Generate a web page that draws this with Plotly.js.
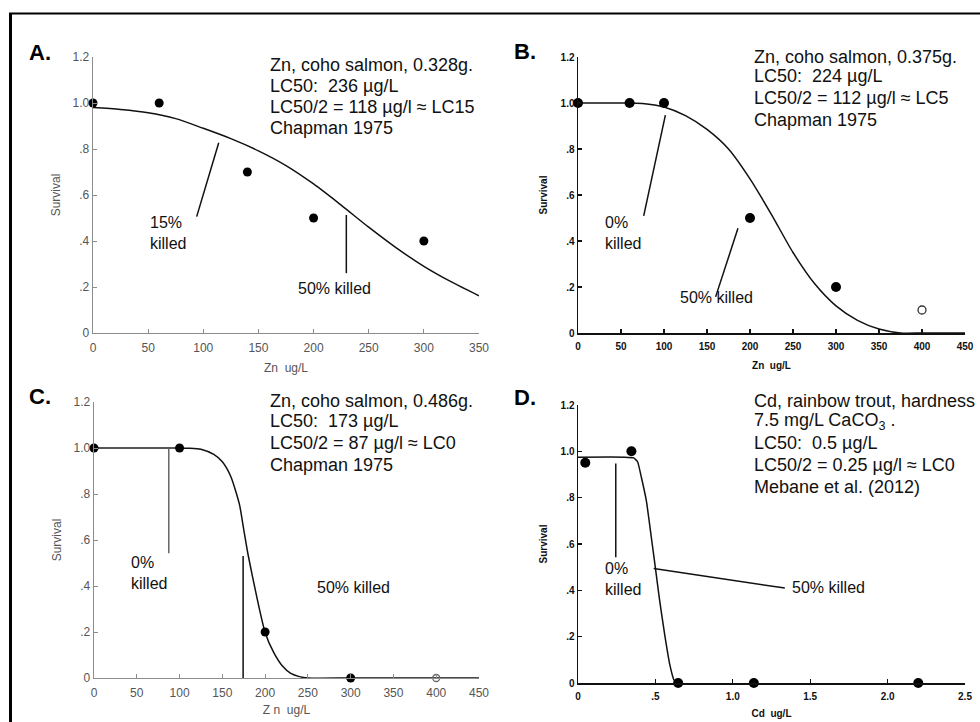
<!DOCTYPE html>
<html>
<head>
<meta charset="utf-8">
<script src="https://cdn.plot.ly/plotly-3.0.1.min.js"></script>
<style>html,body{margin:0;padding:0;background:#fff;}#chart{width:980px;height:722px;}</style>
</head>
<body>
<div id="chart"></div>
<script>
// ---------- DATA ----------
// Panel A: Zn, coho salmon 0.328 g
const aObsX = [0, 60, 140, 200, 300];
const aObsY = [1.0, 1.0, 0.7, 0.5, 0.4];
const aFitX = [0, 25, 50, 75, 100, 125, 150, 175, 200, 225, 250, 275, 300, 325, 350];
const aFitY = [0.98, 0.972, 0.958, 0.932, 0.89, 0.845, 0.792, 0.728, 0.648, 0.556, 0.46, 0.37, 0.29, 0.222, 0.162];

// Panel B: Zn, coho salmon 0.375 g
const bObsX = [0, 60, 100, 200, 300];
const bObsY = [1.0, 1.0, 1.0, 0.5, 0.2];
const bOpenX = [400];
const bOpenY = [0.1];
const bFitX = [0, 25, 50, 75, 100, 125, 150, 175, 200, 225, 250, 275, 300, 325, 350, 375, 400, 425, 450];
const bFitY = [1.0, 1.0, 1.0, 0.998, 0.983, 0.945, 0.885, 0.8, 0.67, 0.515, 0.35, 0.215, 0.118, 0.055, 0.017, 0.0, 0.0, 0.0, 0.0];

// Panel C: Zn, coho salmon 0.486 g
const cObsX = [0, 100, 200, 300];
const cObsY = [1.0, 1.0, 0.2, 0.0];
const cOpenX = [400];
const cOpenY = [0.0];
const cFlatX = [0, 100];
const cFlatY = [1.0, 1.0];
const cFitX = [100, 110, 125, 140, 150, 160, 170, 175, 180, 190, 200, 210, 220, 230, 240, 250, 300, 350, 400, 450];
const cFitY = [1.0, 0.999, 0.995, 0.972, 0.94, 0.875, 0.755, 0.646, 0.538, 0.357, 0.198, 0.111, 0.053, 0.02, 0.006, 0.0, 0.0, 0.0, 0.0, 0.0];

// Panel D: Cd, rainbow trout
const dObsX = [0.047, 0.345, 0.647, 1.136, 2.198];
const dObsY = [0.951, 1.0, 0.0, 0.0, 0.0];
const dFitX = [0, 0.3, 0.36, 0.385, 0.41, 0.442, 0.474, 0.5, 0.528, 0.56, 0.593, 0.619, 0.636];
const dFitY = [0.975, 0.975, 0.972, 0.955, 0.886, 0.785, 0.627, 0.497, 0.353, 0.209, 0.079, 0.014, 0.0];

// Tick labels
const yTickVals = [0, 0.2, 0.4, 0.6, 0.8, 1.0, 1.2];
const yTickText = ['0', '.2', '.4', '.6', '.8', '1.0', '1.2'];
const zn350Ticks = [0, 50, 100, 150, 200, 250, 300, 350];
const zn450Ticks = [0, 50, 100, 150, 200, 250, 300, 350, 400, 450];
const cdTickVals = [0, 0.5, 1.0, 1.5, 2.0, 2.5];
const cdTickText = ['0', '.5', '1.0', '1.5', '2.0', '2.5'];

// Text blocks
const aText = ['Zn, coho salmon, 0.328g.', 'LC50:  236 µg/L', 'LC50/2 = 118 µg/l ≈ LC15', 'Chapman 1975'];
const bText = ['Zn, coho salmon, 0.375g.', 'LC50:  224 µg/L', 'LC50/2 = 112 µg/l ≈ LC5', 'Chapman 1975'];
const cText = ['Zn, coho salmon, 0.486g.', 'LC50:  173 µg/L', 'LC50/2 = 87 µg/l ≈ LC0', 'Chapman 1975'];
const dText = ['Cd, rainbow trout, hardness', '7.5 mg/L CaCO<sub>3</sub> .', 'LC50:  0.5 µg/L', 'LC50/2 = 0.25 µg/l ≈ LC0', 'Mebane et al. (2012)'];

// Callout labels [panel, text, x, y]
const calloutLabels = [
  ['', '15%<br>killed', 50, 0.433],
  ['', '50% killed', 184, 0.195],
  ['2', '0%<br>killed', 29, 0.434],
  ['2', '50% killed', 116, 0.155],
  ['3', '0%<br>killed', 41, 0.457],
  ['3', '50% killed', 258, 0.393],
  ['4', '0%<br>killed', 0.162, 0.447],
  ['4', '50% killed', 1.369, 0.411]
];
// Callout leader lines [panel, x0, y0, x1, y1, colour]
const calloutLines = [
  ['', 114, 0.827, 94, 0.506, '#111'],
  ['', 229.7, 0.513, 229.7, 0.26, '#111'],
  ['2', 101.6, 0.947, 76.4, 0.509, '#111'],
  ['2', 186, 0.455, 160, 0.157, '#111'],
  ['3', 87.4, 0.998, 87.4, 0.542, '#666'],
  ['3', 174.3, 0.53, 174.3, 0, '#111'],
  ['4', 0.244, 0.947, 0.244, 0.543, '#111'],
  ['4', 0.489, 0.494, 1.336, 0.41, '#111']
];

// ---------- LAYOUT HELPERS ----------
const W = 980, H = 722;
const px = v => v / W;
const py = v => 1 - v / H;

const MAIN = 'Liberation Sans, Arial, sans-serif';
const NARROW = 'Liberation Sans Narrow, Arial Narrow, Liberation Sans, sans-serif';

function dots(x, y, ax, size) {
  return {x: x, y: y, xaxis: 'x' + ax, yaxis: 'y' + ax, type: 'scatter', mode: 'markers',
    marker: {color: '#000', size: size}, cliponaxis: false, showlegend: false, hoverinfo: 'x+y'};
}
function openDots(x, y, ax, size, col) {
  return {x: x, y: y, xaxis: 'x' + ax, yaxis: 'y' + ax, type: 'scatter', mode: 'markers',
    marker: {color: col, size: size, symbol: 'circle-open', line: {color: col, width: 1.3}},
    cliponaxis: false, showlegend: false};
}
function curve(x, y, ax, col, w, sm) {
  return {x: x, y: y, xaxis: 'x' + ax, yaxis: 'y' + ax, type: 'scatter', mode: 'lines',
    line: {color: col, width: w, shape: 'spline', smoothing: sm}, cliponaxis: false, showlegend: false, hoverinfo: 'skip'};
}

const data = [
  curve(aFitX, aFitY, '', '#111', 1.5, 0.8),
  dots(aObsX, aObsY, '', 9),
  curve(bFitX, bFitY, '2', '#111', 1.5, 0.7),
  dots(bObsX, bObsY, '2', 10),
  openDots(bOpenX, bOpenY, '2', 8, '#333'),
  curve(cFlatX, cFlatY, '3', '#555', 2, 0),
  curve(cFitX, cFitY, '3', '#111', 1.5, 0.6),
  dots(cObsX, cObsY, '3', 9),
  openDots(cOpenX, cOpenY, '3', 7, '#666'),
  curve(dFitX, dFitY, '4', '#111', 1.5, 0.4),
  dots(dObsX, dObsY, '4', 10)
];

function greyAxis(extra) {
  return Object.assign({
    showline: true, linecolor: '#8c8c8c', linewidth: 1.3, showgrid: false, zeroline: false,
    ticks: 'inside', ticklen: 4, tickwidth: 1, tickcolor: '#8c8c8c',
    tickfont: {family: NARROW, size: 12, color: '#555'}, fixedrange: true
  }, extra);
}
function blackAxis(extra) {
  return Object.assign({
    showline: true, linecolor: '#111', linewidth: 1.5, showgrid: false, zeroline: false,
    ticks: 'inside', ticklen: 4, tickwidth: 1.2, tickcolor: '#111',
    tickfont: {family: MAIN, size: 10, color: '#111', weight: 'bold'}, fixedrange: true
  }, extra);
}
const greyTitleFont = {family: NARROW, size: 12, color: '#555'};
const blackTitleFont = {family: MAIN, size: 10, color: '#111', weight: 'bold'};

const layout = {
  width: W, height: H,
  margin: {l: 0, r: 0, t: 0, b: 0},
  paper_bgcolor: '#fff', plot_bgcolor: 'rgba(0,0,0,0)',
  showlegend: false,
  xaxis: greyAxis({domain: [px(93), px(479)], range: [0, 350], anchor: 'y',
    tickvals: zn350Ticks, ticklabelstandoff: 3,
    title: {text: 'Zn  ug/L', font: greyTitleFont, standoff: 10}}),
  yaxis: greyAxis({domain: [py(333), py(57)], range: [0, 1.2], anchor: 'x',
    tickvals: yTickVals, ticktext: yTickText,
    title: {text: 'Survival', font: greyTitleFont, standoff: 9}}),
  xaxis2: blackAxis({domain: [px(578), px(965)], range: [0, 450], anchor: 'y2',
    tickvals: zn450Ticks, ticklabelstandoff: 3,
    title: {text: 'Zn  ug/L', font: blackTitleFont, standoff: 11}}),
  yaxis2: blackAxis({domain: [py(333), py(57)], range: [0, 1.2], anchor: 'x2',
    tickvals: yTickVals, ticktext: yTickText,
    title: {text: 'Survival', font: blackTitleFont, standoff: 11}}),
  xaxis3: greyAxis({domain: [px(94), px(479)], range: [0, 450], anchor: 'y3',
    tickvals: zn450Ticks, ticklabelstandoff: 3,
    title: {text: 'Z n  ug/L', font: greyTitleFont, standoff: 7}}),
  yaxis3: greyAxis({domain: [py(678), py(402)], range: [0, 1.2], anchor: 'x3',
    tickvals: yTickVals, ticktext: yTickText,
    title: {text: 'Survival', font: greyTitleFont, standoff: 9}}),
  xaxis4: blackAxis({domain: [px(578), px(965)], range: [0, 2.5], anchor: 'y4',
    tickvals: cdTickVals, ticktext: cdTickText, ticklabelstandoff: 3,
    title: {text: 'Cd  ug/L', font: blackTitleFont, standoff: 9}}),
  yaxis4: blackAxis({domain: [py(683), py(405)], range: [0, 1.2], anchor: 'x4',
    tickvals: yTickVals, ticktext: yTickText,
    title: {text: 'Survival', font: blackTitleFont, standoff: 11}}),
  shapes: [],
  annotations: []
};

// Outer frame (left and top edges visible)
layout.shapes.push({type: 'line', xref: 'paper', yref: 'paper', x0: px(10.5), x1: px(10.5), y0: -0.05, y1: py(13), line: {color: '#000', width: 3}});
layout.shapes.push({type: 'line', xref: 'paper', yref: 'paper', x0: px(9), x1: 1.05, y0: py(13.5), y1: py(13.5), line: {color: '#000', width: 2}});

// Callout leader lines
calloutLines.forEach(c => {
  layout.shapes.push({type: 'line', xref: 'x' + c[0], yref: 'y' + c[0], x0: c[1], y0: c[2], x1: c[3], y1: c[4],
    line: {color: c[5], width: 1.5}});
});

// Callout labels
calloutLabels.forEach(c => {
  layout.annotations.push({xref: 'x' + c[0], yref: 'y' + c[0], x: c[2], y: c[3], text: c[1],
    showarrow: false, xanchor: 'left', yanchor: 'middle', align: 'left',
    font: {family: MAIN, size: 16, color: '#111'}});
});

// Panel letters
[['A.', 27, 53], ['B.', 512, 52], ['C.', 27, 396], ['D.', 512, 397]].forEach(p => {
  layout.annotations.push({xref: 'paper', yref: 'paper', x: px(p[1]), y: py(p[2]), text: '<b>' + p[0] + '</b>',
    showarrow: false, xanchor: 'left', yanchor: 'middle', font: {family: MAIN, size: 22, color: '#000'}});
});

// Text blocks
function block(lines, xLeft, ys) {
  lines.forEach((t, i) => {
    layout.annotations.push({xref: 'paper', yref: 'paper', x: px(xLeft), y: py(ys[i]), text: t,
      showarrow: false, xanchor: 'left', yanchor: 'middle', align: 'left',
      font: {family: MAIN, size: 18, color: '#111'}});
  });
}
block(aText, 268, [65, 86, 107, 128]);
block(bText, 752, [57, 76, 98, 120]);
block(cText, 268, [401, 421, 443, 465]);
block(dText, 752, [401, 421, 443, 465, 487]);

Plotly.newPlot('chart', data, layout, {staticPlot: true, displayModeBar: false});
</script>
</body>
</html>
